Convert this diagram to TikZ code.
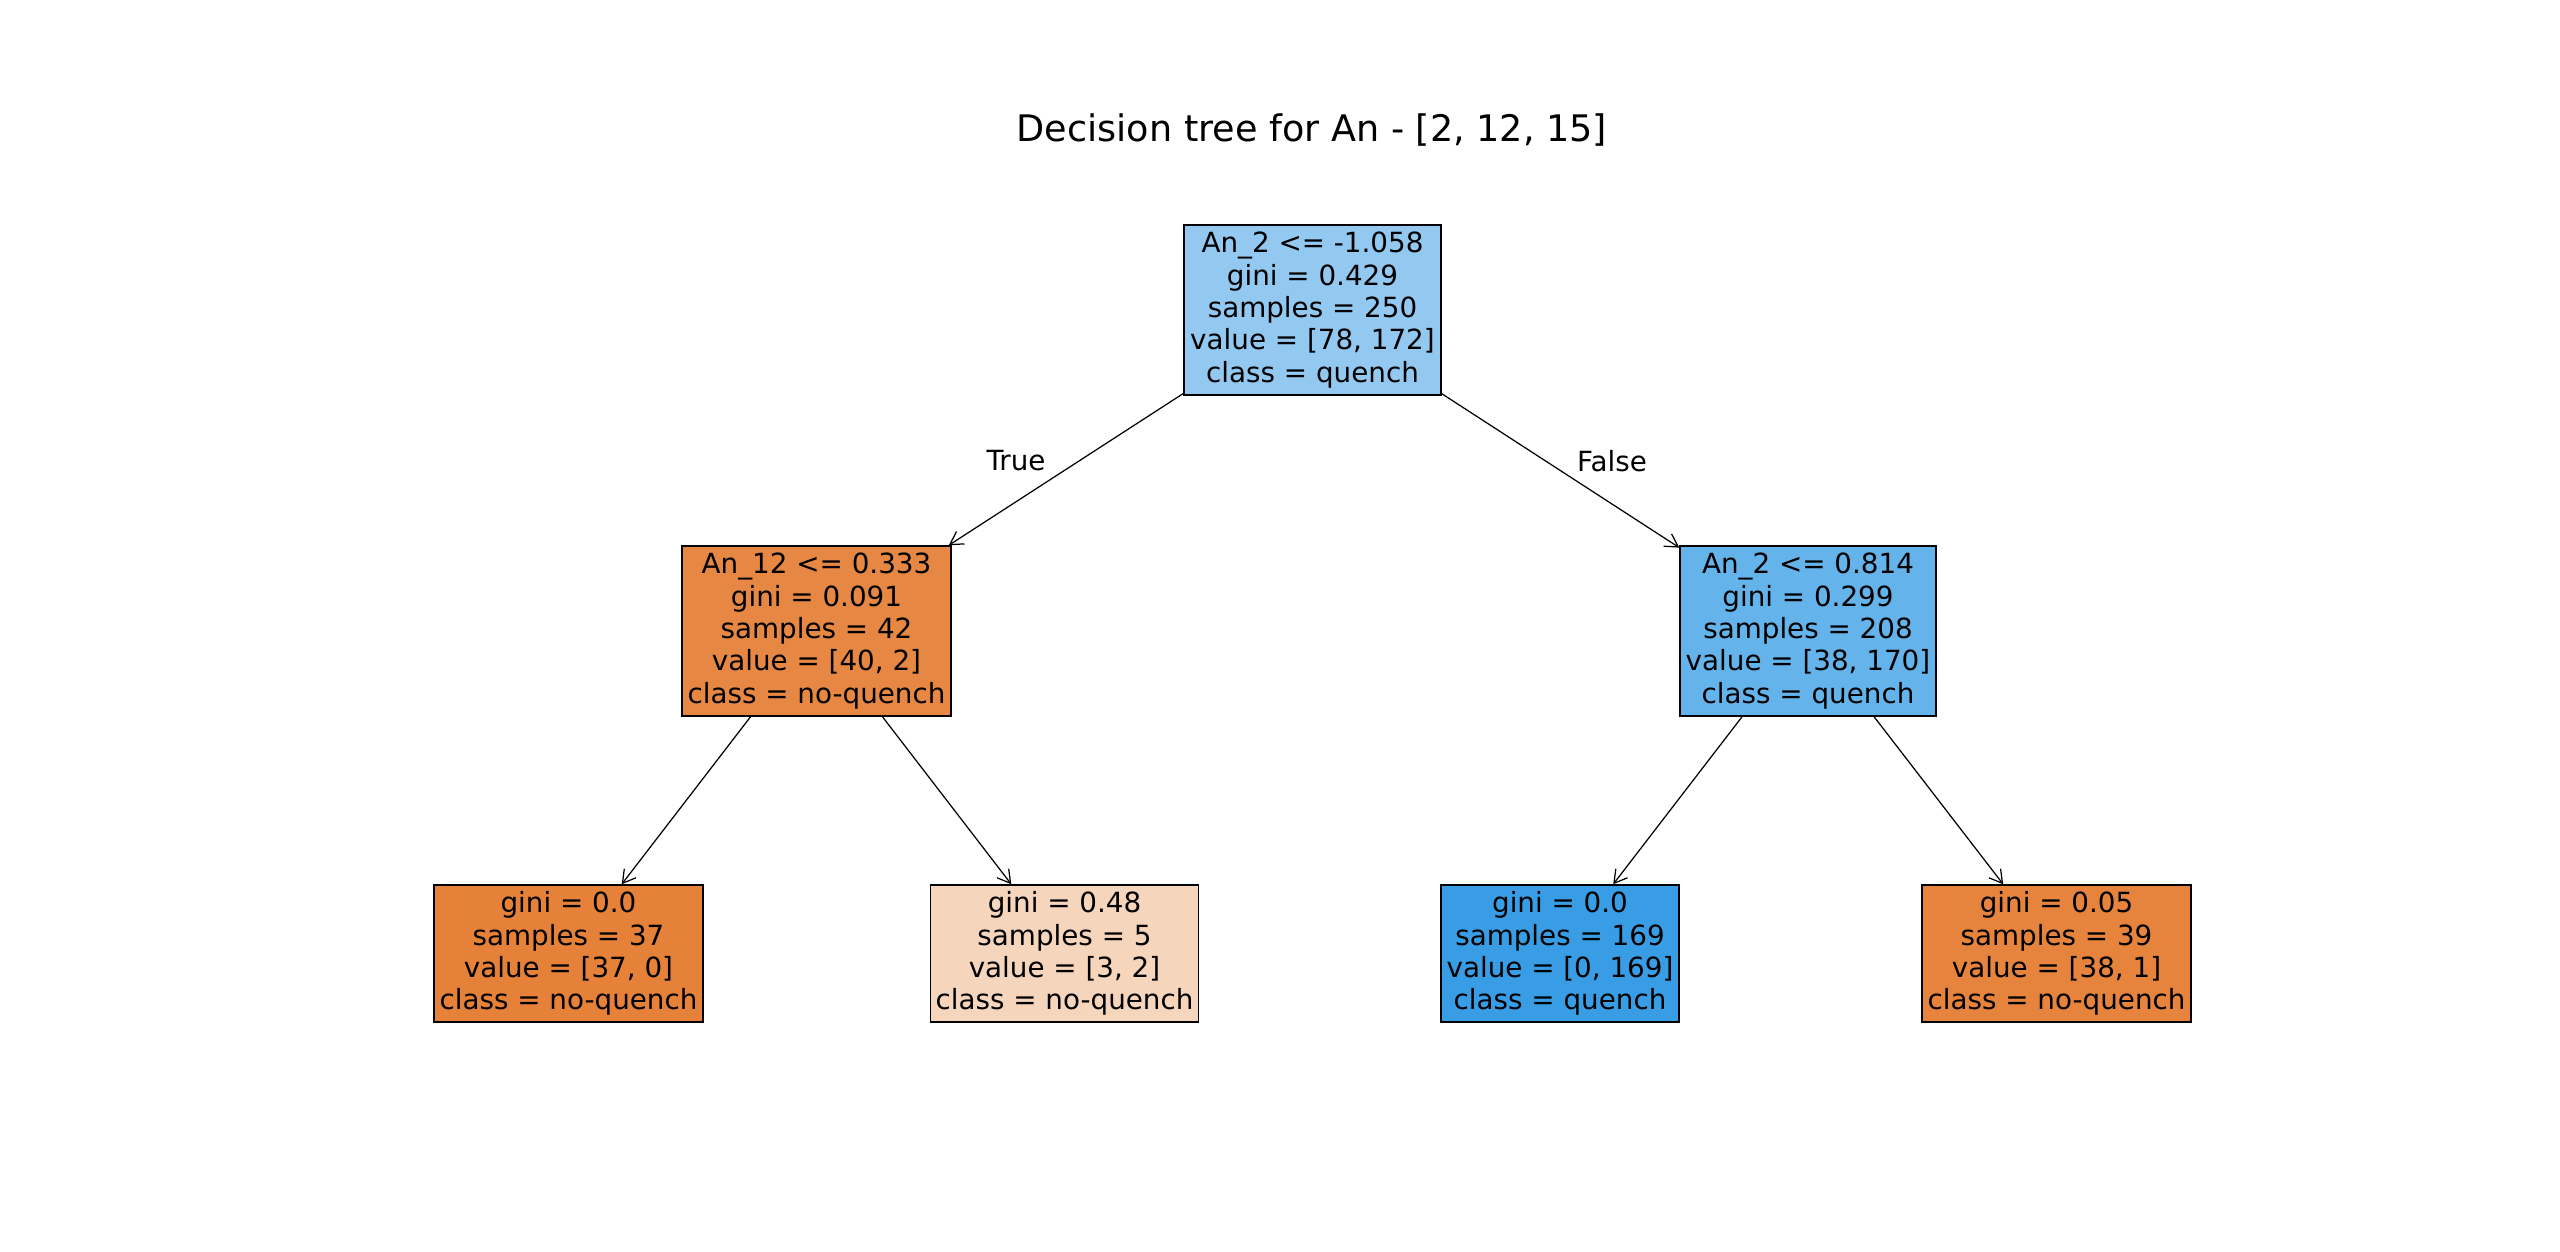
\documentclass[tikz,border=0pt]{standalone}
\usepackage{fontspec}
\setmainfont{DejaVu Sans}
\usetikzlibrary{arrows.meta}
\definecolor{cRoot}{RGB}{147,201,241}
\definecolor{cLeft}{RGB}{230,135,67}
\definecolor{cRight}{RGB}{101,179,235}
\definecolor{cLeafA}{RGB}{229,129,57}
\definecolor{cLeafB}{RGB}{246,213,189}
\definecolor{cLeafC}{RGB}{57,157,229}
\definecolor{cLeafD}{RGB}{230,132,62}
\tikzset{
  treebox/.style={draw=black, line width=0.4pt, rectangle, inner sep=0pt, align=center,
    font=\fontsize{7.9}{9.2}\selectfont},
  inner/.style={treebox, minimum height=1.70cm},
  leafbox/.style={treebox, minimum height=1.37cm},
  edgelbl/.style={font=\fontsize{7.9}{9.2}\selectfont, inner sep=0pt},
  arr/.style={line width=0.35pt, -{Straight Barb[length=3.6pt,width=4.2pt]}}
}
\begin{document}
\begin{tikzpicture}[x=0.01cm,y=-0.01cm]
\path[use as bounding box] (0,0) rectangle (2560,1251);
\node[font=\fontsize{10.4}{12}\selectfont] (title) at (1312,130) {Decision tree for An - [2, 12, 15]};
\node[inner, fill=cRoot, minimum width=2.57cm] (root) at (1312.5,310)
  {An\_2 <= -1.058\\gini = 0.429\\samples = 250\\value = [78, 172]\\class = quench};
\node[inner, fill=cLeft, minimum width=2.69cm] (left) at (816.5,631)
  {An\_12 <= 0.333\\gini = 0.091\\samples = 42\\value = [40, 2]\\class = no-quench};
\node[inner, fill=cRight, minimum width=2.56cm] (right) at (1808,631)
  {An\_2 <= 0.814\\gini = 0.299\\samples = 208\\value = [38, 170]\\class = quench};
\node[leafbox, fill=cLeafA, minimum width=2.69cm] (leafa) at (568.5,953.5)
  {gini = 0.0\\samples = 37\\value = [37, 0]\\class = no-quench};
\node[leafbox, fill=cLeafB, minimum width=2.68cm] (leafb) at (1064.5,953.5)
  {gini = 0.48\\samples = 5\\value = [3, 2]\\class = no-quench};
\node[leafbox, fill=cLeafC, minimum width=2.38cm] (leafc) at (1560,953.5)
  {gini = 0.0\\samples = 169\\value = [0, 169]\\class = quench};
\node[leafbox, fill=cLeafD, minimum width=2.69cm] (leafd) at (2056.5,953.5)
  {gini = 0.05\\samples = 39\\value = [38, 1]\\class = no-quench};
\draw[arr] (root) -- (left);
\draw[arr] (root) -- (right);
\draw[arr] (left) -- (leafa);
\draw[arr] (left) -- (leafb);
\draw[arr] (right) -- (leafc);
\draw[arr] (right) -- (leafd);
\node[edgelbl] (truelbl) at (1016,461) {True};
\node[edgelbl] (falselbl) at (1612,461) {False};
\end{tikzpicture}
\end{document}
